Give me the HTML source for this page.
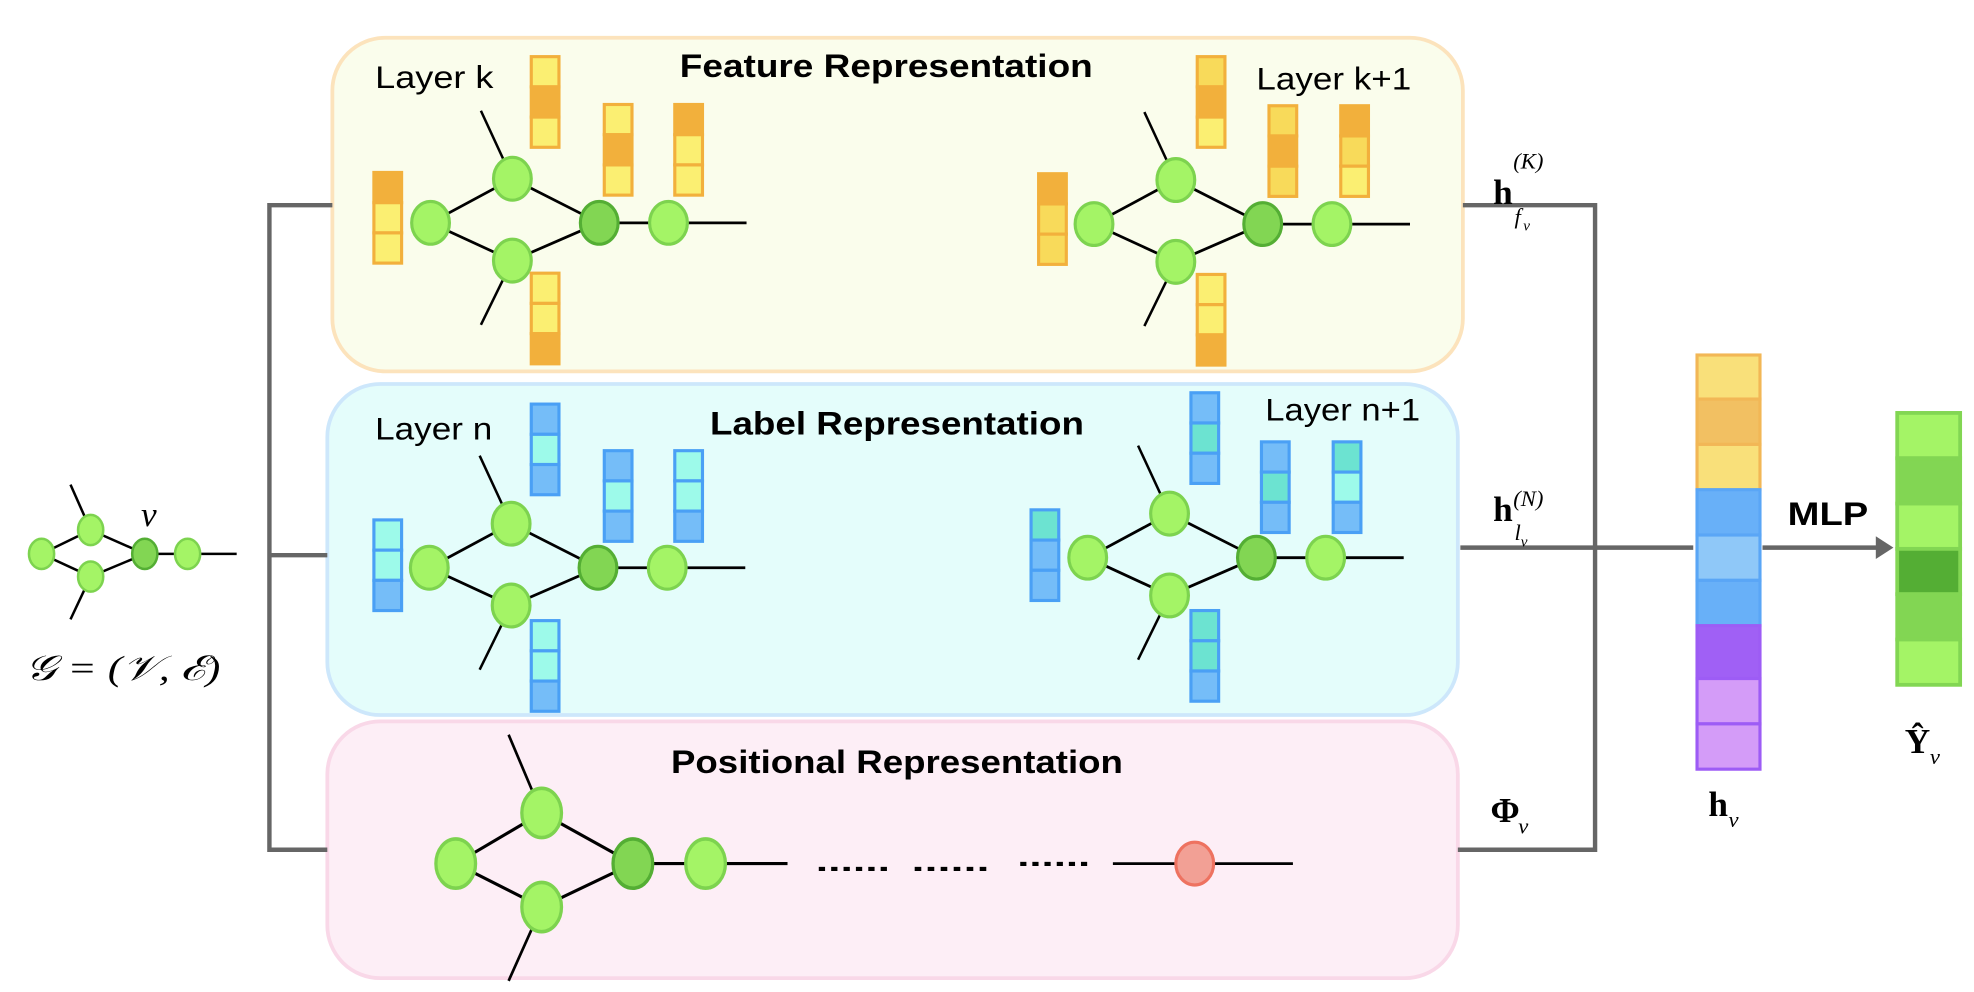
<!DOCTYPE html>
<html><head><meta charset="utf-8"><style>html,body{margin:0;padding:0;background:#fff}svg{display:block}</style></head><body>
<svg width="1974" height="992" viewBox="0 0 1568 788" preserveAspectRatio="none" xmlns="http://www.w3.org/2000/svg" font-family="Liberation Sans, sans-serif">
<defs>
<g id="g1">
<line x1="0" y1="0" x2="65" y2="-35" stroke="#000" stroke-width="2.2"/>
<line x1="0" y1="0" x2="65" y2="30" stroke="#000" stroke-width="2.2"/>
<line x1="65" y1="-35" x2="134" y2="0" stroke="#000" stroke-width="2.2"/>
<line x1="65" y1="30" x2="134" y2="0" stroke="#000" stroke-width="2.2"/>
<line x1="134" y1="0" x2="251" y2="0" stroke="#000" stroke-width="2.2"/>
<line x1="65" y1="-35" x2="40" y2="-89" stroke="#000" stroke-width="2"/>
<line x1="65" y1="30" x2="40" y2="81" stroke="#000" stroke-width="2"/>
<ellipse cx="0" cy="0" rx="15" ry="17" fill="#a4f466" stroke="#7dd34f" stroke-width="2.5"/>
<ellipse cx="65" cy="-35" rx="15" ry="17" fill="#a4f466" stroke="#7dd34f" stroke-width="2.5"/>
<ellipse cx="65" cy="30" rx="15" ry="17" fill="#a4f466" stroke="#7dd34f" stroke-width="2.5"/>
<ellipse cx="134" cy="0" rx="15" ry="17" fill="#82d653" stroke="#54ae34" stroke-width="2.5"/>
<ellipse cx="189" cy="0" rx="15" ry="17" fill="#a4f466" stroke="#7dd34f" stroke-width="2.5"/>
</g>
</defs>
<rect x="264" y="30" width="898" height="265" rx="42" fill="#fafdec" stroke="#fce3bc" stroke-width="3"/>
<rect x="260" y="305" width="898" height="263" rx="42" fill="#e4fdfb" stroke="#cde7fb" stroke-width="3"/>
<rect x="260" y="573" width="898" height="204" rx="42" fill="#fdeef6" stroke="#f9d8e8" stroke-width="3"/>
<g stroke="#666" stroke-width="3.5" fill="none">
<polyline points="264,163 214,163 214,675 260,675"/>
<line x1="214" y1="441" x2="260" y2="441"/>
<polyline points="1162,163 1267,163 1267,675 1158,675"/>
<line x1="1160" y1="435" x2="1345" y2="435"/>
<line x1="1400" y1="435" x2="1492" y2="435"/>
</g>
<polygon points="1490,426 1504,435 1490,444" fill="#666"/>
<g font-weight="bold" font-size="26">
<text x="540" y="61" textLength="328" lengthAdjust="spacingAndGlyphs">Feature Representation</text>
<text x="564" y="345" textLength="297" lengthAdjust="spacingAndGlyphs">Label Representation</text>
<text x="533" y="614" textLength="359" lengthAdjust="spacingAndGlyphs">Positional Representation</text>
<text x="1420" y="417" textLength="64" lengthAdjust="spacingAndGlyphs">MLP</text>
</g>
<g font-size="25">
<text x="298" y="70" textLength="94" lengthAdjust="spacingAndGlyphs">Layer k</text>
<text x="998" y="71" textLength="123" lengthAdjust="spacingAndGlyphs">Layer k+1</text>
<text x="298" y="349" textLength="93" lengthAdjust="spacingAndGlyphs">Layer n</text>
<text x="1005" y="334" textLength="123" lengthAdjust="spacingAndGlyphs">Layer n+1</text>
</g>
<use href="#g1" x="342" y="177"/>
<use href="#g1" x="869" y="178"/>
<g stroke="#f2b03c" stroke-width="2.5">
<rect x="297" y="137" width="22" height="24" fill="#f2b03c"/><rect x="297" y="161" width="22" height="24" fill="#fbef72"/><rect x="297" y="185" width="22" height="24" fill="#fbef72"/>
<rect x="422" y="45" width="22" height="24" fill="#fbef72"/><rect x="422" y="69" width="22" height="24" fill="#f2b03c"/><rect x="422" y="93" width="22" height="24" fill="#fbef72"/>
<rect x="480" y="83" width="22" height="24" fill="#fbef72"/><rect x="480" y="107" width="22" height="24" fill="#f2b03c"/><rect x="480" y="131" width="22" height="24" fill="#fbef72"/>
<rect x="536" y="83" width="22" height="24" fill="#f2b03c"/><rect x="536" y="107" width="22" height="24" fill="#fbef72"/><rect x="536" y="131" width="22" height="24" fill="#fbef72"/>
<rect x="422" y="217" width="22" height="24" fill="#fbef72"/><rect x="422" y="241" width="22" height="24" fill="#fbef72"/><rect x="422" y="265" width="22" height="24" fill="#f2b03c"/>
<rect x="825" y="138" width="22" height="24" fill="#f2b03c"/><rect x="825" y="162" width="22" height="24" fill="#f8da5a"/><rect x="825" y="186" width="22" height="24" fill="#f8da5a"/>
<rect x="951" y="45" width="22" height="24" fill="#f8da5a"/><rect x="951" y="69" width="22" height="24" fill="#f2b03c"/><rect x="951" y="93" width="22" height="24" fill="#fbef72"/>
<rect x="1008" y="84" width="22" height="24" fill="#f8da5a"/><rect x="1008" y="108" width="22" height="24" fill="#f2b03c"/><rect x="1008" y="132" width="22" height="24" fill="#f8da5a"/>
<rect x="1065" y="84" width="22" height="24" fill="#f2b03c"/><rect x="1065" y="108" width="22" height="24" fill="#f8da5a"/><rect x="1065" y="132" width="22" height="24" fill="#fbef72"/>
<rect x="951" y="218" width="22" height="24" fill="#fbef72"/><rect x="951" y="242" width="22" height="24" fill="#fbef72"/><rect x="951" y="266" width="22" height="24" fill="#f2b03c"/>
</g>
<use href="#g1" x="341" y="451"/>
<use href="#g1" x="864" y="443"/>
<g stroke="#4aa0f5" stroke-width="2.5">
<rect x="297" y="413" width="22" height="24" fill="#9dfaea"/><rect x="297" y="437" width="22" height="24" fill="#9dfaea"/><rect x="297" y="461" width="22" height="24" fill="#75bdf8"/>
<rect x="422" y="321" width="22" height="24" fill="#75bdf8"/><rect x="422" y="345" width="22" height="24" fill="#9dfaea"/><rect x="422" y="369" width="22" height="24" fill="#75bdf8"/>
<rect x="480" y="358" width="22" height="24" fill="#75bdf8"/><rect x="480" y="382" width="22" height="24" fill="#9dfaea"/><rect x="480" y="406" width="22" height="24" fill="#75bdf8"/>
<rect x="536" y="358" width="22" height="24" fill="#9dfaea"/><rect x="536" y="382" width="22" height="24" fill="#9dfaea"/><rect x="536" y="406" width="22" height="24" fill="#75bdf8"/>
<rect x="422" y="493" width="22" height="24" fill="#9dfaea"/><rect x="422" y="517" width="22" height="24" fill="#9dfaea"/><rect x="422" y="541" width="22" height="24" fill="#75bdf8"/>
<rect x="819" y="405" width="22" height="24" fill="#6ce3d1"/><rect x="819" y="429" width="22" height="24" fill="#75bdf8"/><rect x="819" y="453" width="22" height="24" fill="#75bdf8"/>
<rect x="946" y="312" width="22" height="24" fill="#75bdf8"/><rect x="946" y="336" width="22" height="24" fill="#6ce3d1"/><rect x="946" y="360" width="22" height="24" fill="#75bdf8"/>
<rect x="1002" y="351" width="22" height="24" fill="#75bdf8"/><rect x="1002" y="375" width="22" height="24" fill="#6ce3d1"/><rect x="1002" y="399" width="22" height="24" fill="#75bdf8"/>
<rect x="1059" y="351" width="22" height="24" fill="#6ce3d1"/><rect x="1059" y="375" width="22" height="24" fill="#9dfaea"/><rect x="1059" y="399" width="22" height="24" fill="#75bdf8"/>
<rect x="946" y="485" width="22" height="24" fill="#6ce3d1"/><rect x="946" y="509" width="22" height="24" fill="#6ce3d1"/><rect x="946" y="533" width="22" height="24" fill="#75bdf8"/>
</g>
<g transform="translate(362,686) scale(1.05,1.15)"><use href="#g1"/></g>
<g font-weight="bold" font-size="22">
<text x="648" y="692" textLength="59" lengthAdjust="spacingAndGlyphs">......</text>
<text x="724" y="692" textLength="62" lengthAdjust="spacingAndGlyphs">......</text>
<text x="808" y="688" textLength="58" lengthAdjust="spacingAndGlyphs">......</text>
</g>
<line x1="884" y1="686" x2="1027" y2="686" stroke="#000" stroke-width="2.2"/>
<ellipse cx="949" cy="686" rx="15" ry="17" fill="#f2a095" stroke="#ee7260" stroke-width="2.5"/>
<g stroke="#000" stroke-width="2">
<line x1="33" y1="440" x2="72" y2="421"/><line x1="33" y1="440" x2="72" y2="458"/>
<line x1="72" y1="421" x2="115" y2="440"/><line x1="72" y1="458" x2="115" y2="440"/>
<line x1="115" y1="440" x2="188" y2="440"/>
<line x1="72" y1="421" x2="56" y2="385"/><line x1="72" y1="458" x2="56" y2="492"/>
</g>
<g stroke-width="2">
<ellipse cx="33" cy="440" rx="10" ry="12" fill="#a4f466" stroke="#7dd34f"/>
<ellipse cx="72" cy="421" rx="10" ry="12" fill="#a4f466" stroke="#7dd34f"/>
<ellipse cx="72" cy="458" rx="10" ry="12" fill="#a4f466" stroke="#7dd34f"/>
<ellipse cx="115" cy="440" rx="10" ry="12" fill="#82d653" stroke="#54ae34"/>
<ellipse cx="149" cy="440" rx="10" ry="12" fill="#a4f466" stroke="#7dd34f"/>
</g>
<g font-family="Liberation Serif, serif">
<text x="112" y="418" font-style="italic" font-size="28">v</text>
<text x="20" y="540" font-style="italic" font-size="28" textLength="155" lengthAdjust="spacingAndGlyphs">𝒢 = (𝒱, ℰ)</text>
<text x="1186" y="162" font-weight="bold" font-size="28">h</text>
<text x="1202" y="134" font-style="italic" font-size="18">(K)</text>
<text x="1203" y="178" font-style="italic" font-size="18">f</text><text x="1210" y="183" font-style="italic" font-size="12">v</text>
<text x="1186" y="414" font-weight="bold" font-size="28">h</text>
<text x="1202" y="402" font-style="italic" font-size="18">(N)</text>
<text x="1203" y="429" font-style="italic" font-size="18">l</text><text x="1208" y="434" font-style="italic" font-size="12">v</text>
<text x="1184" y="653" font-weight="bold" font-size="28">Φ</text>
<text x="1206" y="662" font-style="italic" font-size="18">v</text>
<text x="1357" y="648" font-weight="bold" font-size="28">h</text>
<text x="1373" y="657" font-style="italic" font-size="18">v</text>
<text x="1513" y="598" font-weight="bold" font-size="28">Ŷ</text>
<text x="1533" y="607" font-style="italic" font-size="18">v</text>
</g>
<g stroke-width="2.5">
<rect x="1348" y="282" width="50" height="35" fill="#f9e07a" stroke="#f2b756"/>
<rect x="1348" y="317" width="50" height="36" fill="#f2c062" stroke="#f2b756"/>
<rect x="1348" y="353" width="50" height="36" fill="#f9e07a" stroke="#f2b756"/>
<rect x="1348" y="389" width="50" height="36" fill="#68b0f8" stroke="#5aa6f6"/>
<rect x="1348" y="425" width="50" height="36" fill="#8fc8f8" stroke="#5aa6f6"/>
<rect x="1348" y="461" width="50" height="36" fill="#68b0f8" stroke="#5aa6f6"/>
<rect x="1348" y="497" width="50" height="42" fill="#a060f5" stroke="#9d5cf5"/>
<rect x="1348" y="539" width="50" height="36" fill="#d49cf8" stroke="#9d5cf5"/>
<rect x="1348" y="575" width="50" height="36" fill="#d49cf8" stroke="#9d5cf5"/>
</g>
<g stroke="#82d653" stroke-width="3">
<rect x="1507" y="328" width="50" height="36" fill="#a4f466"/>
<rect x="1507" y="364" width="50" height="36" fill="#82d653"/>
<rect x="1507" y="400" width="50" height="36" fill="#a4f466"/>
<rect x="1507" y="436" width="50" height="36" fill="#54ae34"/>
<rect x="1507" y="472" width="50" height="36" fill="#82d653"/>
<rect x="1507" y="508" width="50" height="36" fill="#a4f466"/>
</g>
</svg>
</body></html>
